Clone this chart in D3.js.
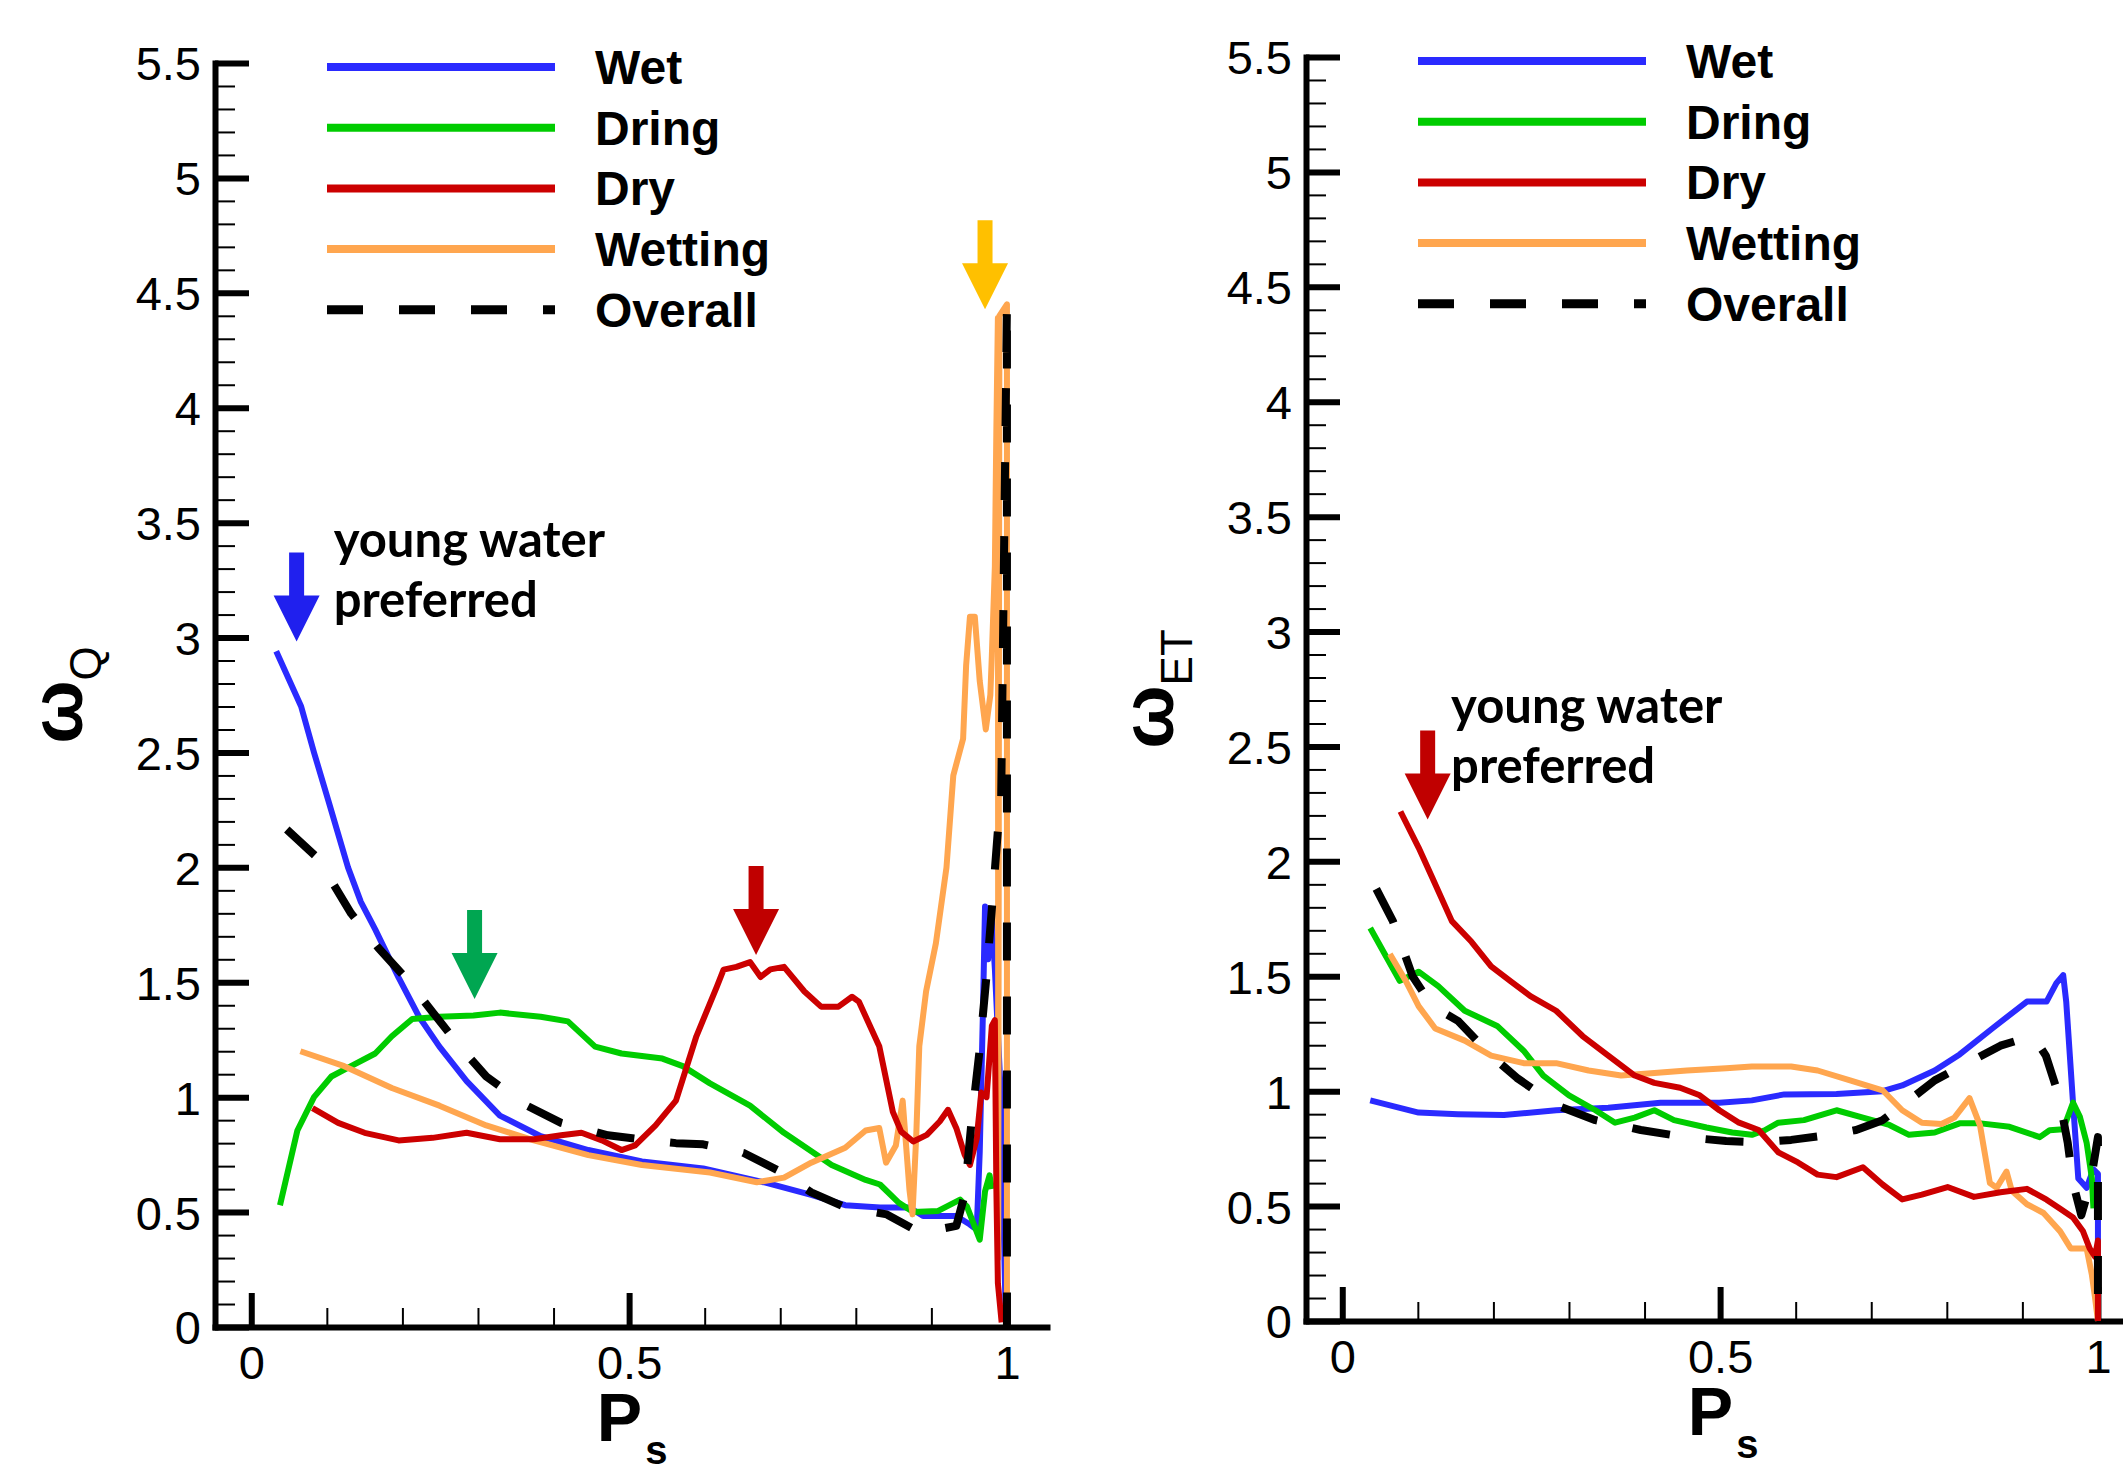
<!DOCTYPE html>
<html>
<head>
<meta charset="utf-8">
<script src="https://cdn.jsdelivr.net/npm/d3@7"></script>
<style>
	body { margin: 0; background: #fff; }
	svg { display: block; }
</style>
</head>
<body>
<svg id="chart" width="2123" height="1476"></svg>
<script>
/* Two Tecplot-style panels: preference weights ω_Q and ω_ET against P_s,
   one line per hydrologic state plus the overall (dashed) curve. */
'use strict';

// Tick values
var xTicks = [0, 0.5, 1];
var yTicks = [0, 0.5, 1, 1.5, 2, 2.5, 3, 3.5, 4, 4.5, 5, 5.5];
var legendNames = ['Wet', 'Dring', 'Dry', 'Wetting', 'Overall'];

// ω_Q panel, [Ps, ω]
var wetQ = [[0.033, 2.94], [0.066, 2.70], [0.083, 2.50], [0.102, 2.29], [0.128, 2.0], [0.145, 1.85], [0.164, 1.73],
	[0.195, 1.52], [0.222, 1.35], [0.249, 1.22], [0.285, 1.07], [0.329, 0.92], [0.383, 0.83], [0.446, 0.77],
	[0.517, 0.72], [0.598, 0.69], [0.678, 0.63], [0.741, 0.575], [0.786, 0.53], [0.832, 0.52], [0.871, 0.52],
	[0.889, 0.483], [0.933, 0.483], [0.951, 0.446], [0.96, 0.424], [0.964, 0.763], [0.968, 1.34], [0.971, 1.83],
	[0.975, 1.6], [0.979, 1.82], [0.984, 1.56], [0.992, 1.0], [0.998, 0.1]];
var dringQ = [[0.038, 0.53], [0.061, 0.855], [0.083, 1.0], [0.106, 1.09], [0.132, 1.135], [0.164, 1.19], [0.186, 1.265],
	[0.213, 1.34], [0.249, 1.35], [0.294, 1.355], [0.329, 1.368], [0.383, 1.35], [0.419, 1.33], [0.455, 1.22],
	[0.49, 1.19], [0.544, 1.168], [0.571, 1.135], [0.607, 1.06], [0.66, 0.963], [0.705, 0.845], [0.768, 0.705],
	[0.813, 0.64], [0.832, 0.62], [0.857, 0.54], [0.876, 0.5], [0.909, 0.505], [0.938, 0.554], [0.947, 0.525],
	[0.964, 0.38], [0.971, 0.59], [0.977, 0.66], [0.98, 0.6]];
var dryQ = [[0.081, 0.952], [0.115, 0.888], [0.15, 0.845], [0.195, 0.812], [0.24, 0.823], [0.285, 0.845], [0.329, 0.817],
	[0.374, 0.817], [0.41, 0.834], [0.437, 0.845], [0.464, 0.812], [0.49, 0.77], [0.508, 0.79], [0.535, 0.877],
	[0.562, 0.985], [0.589, 1.265], [0.616, 1.48], [0.625, 1.555], [0.642, 1.567], [0.66, 1.588], [0.674, 1.523],
	[0.687, 1.556], [0.705, 1.567], [0.732, 1.46], [0.754, 1.394], [0.777, 1.394], [0.795, 1.437], [0.804, 1.416],
	[0.831, 1.222], [0.849, 0.936], [0.86, 0.85], [0.876, 0.807], [0.894, 0.836], [0.911, 0.894], [0.922, 0.945],
	[0.933, 0.865], [0.944, 0.75], [0.951, 0.705], [0.96, 0.82], [0.966, 1.02], [0.973, 1.0], [0.98, 1.31],
	[0.984, 1.335], [0.986, 0.6], [0.988, 0.19], [0.993, 0.02]];
var wettingQ = [[0.065, 1.2], [0.123, 1.135], [0.186, 1.04], [0.249, 0.963], [0.311, 0.877], [0.374, 0.812], [0.446, 0.748],
	[0.517, 0.705], [0.607, 0.672], [0.669, 0.63], [0.705, 0.65], [0.741, 0.715], [0.786, 0.78], [0.813, 0.855],
	[0.831, 0.866], [0.84, 0.715], [0.853, 0.79], [0.862, 0.985], [0.871, 0.597], [0.875, 0.49], [0.88, 0.834],
	[0.884, 1.222], [0.893, 1.46], [0.906, 1.67], [0.92, 2.0], [0.929, 2.40], [0.942, 2.56], [0.946, 2.88],
	[0.951, 3.09], [0.9575, 3.09], [0.964, 2.81], [0.972, 2.60], [0.978, 2.75], [0.98, 2.92], [0.984, 3.31],
	[0.986, 3.91], [0.988, 4.39], [0.9885, 0.3], [0.99, 4.4], [1.0, 4.45], [1.0, 0]];
var overallQ = [[0.047, 2.165], [0.088, 2.04], [0.132, 1.80], [0.168, 1.65], [0.204, 1.52], [0.240, 1.37], [0.276, 1.22],
	[0.311, 1.09], [0.365, 0.963], [0.41, 0.888], [0.472, 0.834], [0.526, 0.812], [0.562, 0.80], [0.598, 0.795],
	[0.651, 0.758], [0.696, 0.683], [0.741, 0.586], [0.786, 0.521], [0.841, 0.49], [0.885, 0.41], [0.933, 0.44],
	[0.944, 0.575], [0.953, 0.89], [0.964, 1.21], [0.973, 1.53], [0.981, 1.86], [0.988, 2.16], [0.992, 2.2],
	[1.0, 4.45], [1.0, 0]];

// ω_ET panel
var wetET = [[0.037, 0.96], [0.101, 0.907], [0.153, 0.90], [0.214, 0.896], [0.283, 0.917], [0.352, 0.928], [0.421, 0.95],
	[0.499, 0.95], [0.542, 0.96], [0.585, 0.986], [0.654, 0.988], [0.715, 1.0], [0.741, 1.025], [0.784, 1.09],
	[0.817, 1.16], [0.861, 1.275], [0.906, 1.39], [0.932, 1.39], [0.945, 1.47], [0.954, 1.505], [0.958, 1.39],
	[0.967, 0.95], [0.974, 0.62], [0.985, 0.58], [0.994, 0.66], [1.0, 0.64], [1.0, 0]];
var dringET = [[0.037, 1.71], [0.058, 1.586], [0.076, 1.48], [0.101, 1.52], [0.127, 1.457], [0.162, 1.35], [0.205, 1.284],
	[0.240, 1.176], [0.266, 1.068], [0.3, 0.982], [0.335, 0.917], [0.361, 0.863], [0.387, 0.885], [0.413, 0.917],
	[0.439, 0.874], [0.482, 0.842], [0.516, 0.82], [0.542, 0.81], [0.559, 0.83], [0.577, 0.863], [0.611, 0.874],
	[0.654, 0.917], [0.689, 0.885], [0.724, 0.853], [0.75, 0.81], [0.784, 0.82], [0.817, 0.86], [0.845, 0.86],
	[0.883, 0.845], [0.923, 0.80], [0.936, 0.83], [0.954, 0.834], [0.967, 0.95], [0.976, 0.89], [0.985, 0.776],
	[0.992, 0.62], [0.994, 0.49]];
var dryET = [[0.077, 2.217], [0.101, 2.06], [0.119, 1.93], [0.145, 1.74], [0.171, 1.65], [0.197, 1.543], [0.223, 1.478],
	[0.249, 1.414], [0.283, 1.35], [0.318, 1.24], [0.352, 1.155], [0.387, 1.068], [0.413, 1.036], [0.447, 1.015],
	[0.473, 0.982], [0.499, 0.917], [0.525, 0.863], [0.551, 0.831], [0.577, 0.734], [0.603, 0.69], [0.629, 0.637],
	[0.654, 0.626], [0.689, 0.669], [0.715, 0.594], [0.741, 0.529], [0.767, 0.55], [0.801, 0.583], [0.836, 0.54],
	[0.871, 0.56], [0.906, 0.575], [0.932, 0.528], [0.95, 0.488], [0.967, 0.45], [0.98, 0.392], [0.989, 0.316],
	[0.996, 0.28], [1.0, 0.35], [1.0, 0]];
var wettingET = [[0.063, 1.597], [0.084, 1.48], [0.101, 1.37], [0.123, 1.273], [0.162, 1.22], [0.197, 1.155], [0.240, 1.122],
	[0.283, 1.122], [0.326, 1.09], [0.369, 1.068], [0.413, 1.079], [0.456, 1.09], [0.508, 1.10], [0.542, 1.107],
	[0.594, 1.107], [0.629, 1.09], [0.672, 1.047], [0.715, 1.004], [0.741, 0.917], [0.767, 0.863], [0.793, 0.857],
	[0.81, 0.885], [0.83, 0.97], [0.844, 0.85], [0.857, 0.60], [0.866, 0.58], [0.879, 0.65], [0.886, 0.567],
	[0.906, 0.508], [0.928, 0.47], [0.95, 0.39], [0.964, 0.316], [0.985, 0.316], [0.992, 0.2], [0.996, 0.105], [1.0, 0]];
var overallET = [[0.045, 1.88], [0.067, 1.74], [0.093, 1.50], [0.119, 1.37], [0.153, 1.306], [0.197, 1.155], [0.231, 1.058],
	[0.283, 0.939], [0.335, 0.874], [0.395, 0.831], [0.456, 0.799], [0.508, 0.783], [0.551, 0.777], [0.594, 0.788],
	[0.646, 0.81], [0.680, 0.831], [0.715, 0.874], [0.75, 0.96], [0.784, 1.047], [0.827, 1.122], [0.871, 1.198],
	[0.914, 1.241], [0.931, 1.155], [0.948, 0.982], [0.96, 0.776], [0.967, 0.60], [0.978, 0.46], [0.99, 0.6],
	[1.0, 0.8], [1.0, 0]];

// Annotation arrows: [Ps, ω] of the arrow tip
var arrowsQ = [[0.06, 2.983, '#2020ee'], [0.2955, 1.427, '#00a651'], [0.668, 1.619, '#c00000'], [0.971, 4.428, '#ffc000']];
var arrowsET = [[0.113, 2.182, '#c00000']];

var COLORS = { Wet: '#2a2aff', Dring: '#00cc00', Dry: '#cc0000', Wetting: '#ffa64f', Overall: '#000' };
var FONT = "'Liberation Sans', Arial, Helvetica, sans-serif";

var svg = d3.select('#chart');

function drawPanel(p) {
	var x = d3.scaleLinear().domain([-0.048, 1.053]).range([p.left, p.left + 832]);
	var y = d3.scaleLinear().domain([0, 5.5]).range([p.bottom, p.bottom - 1264]);
	var g = svg.append('g');

	var yMinor = d3.range(1, 55).map(function (i) { return i / 10; }).filter(function (v) { return Math.round(v * 10) % 5; });
	var xMinor = d3.range(1, 10).map(function (i) { return i / 10; }).filter(function (v) { return v !== 0.5; });

	// minor ticks
	g.append('g').attr('transform', 'translate(' + p.left + ',0)')
		.call(d3.axisLeft(y).tickValues(yMinor).tickSize(-20).tickFormat(''))
		.call(function (a) { a.select('.domain').remove(); a.selectAll('line').attr('stroke-width', 2); });
	g.append('g').attr('transform', 'translate(0,' + p.bottom + ')')
		.call(d3.axisBottom(x).tickValues(xMinor).tickSize(-19).tickFormat(''))
		.call(function (a) { a.select('.domain').remove(); a.selectAll('line').attr('stroke-width', 2); });

	// major axes
	var gy = g.append('g').attr('transform', 'translate(' + p.left + ',0)')
		.call(d3.axisLeft(y).tickValues(yTicks).tickSizeInner(-34).tickSizeOuter(0).tickPadding(14).tickFormat(String));
	var gx = g.append('g').attr('transform', 'translate(0,' + p.bottom + ')')
		.call(d3.axisBottom(x).tickValues(xTicks).tickSizeInner(-34).tickSizeOuter(0).tickPadding(19).tickFormat(String));
	[gy, gx].forEach(function (a) {
		a.select('.domain').attr('stroke-width', 6).attr('stroke-linecap', 'square');
		a.selectAll('.tick line').attr('stroke-width', 6);
		a.selectAll('.tick text').attr('font-size', 47).attr('font-family', FONT).attr('fill', '#000');
	});
	gy.selectAll('.tick text').attr('dy', '0.36em');

	// series
	var line = d3.line().x(function (d) { return x(d[0]); }).y(function (d) { return y(d[1]); });
	var order = ['Wet', 'Dring', 'Wetting', 'Dry', 'Overall'];
	order.forEach(function (name) {
		var dashed = name === 'Overall';
		g.append('path').datum(p.series[name]).attr('d', line)
			.attr('fill', 'none').attr('stroke', COLORS[name])
			.attr('stroke-width', dashed ? 8 : 6)
			.attr('stroke-dasharray', dashed ? '38,36' : null)
			.attr('stroke-linejoin', 'round');
	});

	// legend
	var top = y(5.5) + 4;
	var leg = g.append('g').selectAll('g').data(legendNames).join('g')
		.attr('transform', function (d, i) { return 'translate(0,' + (top + i * 60.7) + ')'; });
	leg.append('line').attr('x1', p.left + 112).attr('x2', p.left + 340)
		.attr('stroke', function (d) { return COLORS[d]; })
		.attr('stroke-width', function (d) { return d === 'Overall' ? 9 : 8; })
		.attr('stroke-dasharray', function (d) { return d === 'Overall' ? '36,36' : null; });
	leg.append('text').attr('x', p.left + 380).attr('dy', '0.35em')
		.attr('font-family', FONT).attr('font-weight', 'bold').attr('font-size', 48)
		.text(function (d) { return d; });

	// arrows (tip at the data point, 89px long)
	g.append('g').selectAll('path').data(p.arrows).join('path')
		.attr('fill', function (d) { return d[2]; })
		.attr('d', function (d) {
			var tx = x(d[0]), ty = y(d[1]);
			return 'M' + (tx - 7.5) + ',' + (ty - 89) + 'H' + (tx + 7.5) + 'V' + (ty - 46) + 'H' + (tx + 23) +
				'L' + tx + ',' + ty + 'L' + (tx - 23) + ',' + (ty - 46) + 'H' + (tx - 7.5) + 'Z';
		});

	// "young water preferred"
	var note = g.append('text').attr('font-family', "Lato, 'Open Sans', sans-serif")
		.attr('font-weight', 'bold').attr('font-size', 49);
	note.append('tspan').attr('x', x(p.note[0])).attr('y', y(p.note[1])).text('young water');
	note.append('tspan').attr('x', x(p.note[0])).attr('y', y(p.note[1]) + 60).text('preferred');

	// axis titles
	var yt = g.append('text').attr('font-family', FONT).attr('text-anchor', 'middle')
		.attr('transform', 'translate(' + (p.left - 133) + ',' + (p.bottom - 632) + ') rotate(-90)');
	yt.append('tspan').attr('font-weight', 'bold').attr('font-size', 75).text('ω');
	yt.append('tspan').attr('font-size', 44).attr('dy', 19).text(p.sub);

	var xt = g.append('text').attr('font-family', FONT).attr('font-weight', 'bold').attr('text-anchor', 'middle')
		.attr('x', x(0.5) + 3).attr('y', p.bottom + 114);
	xt.append('tspan').attr('font-size', 68).text('P');
	xt.append('tspan').attr('font-size', 40).attr('dx', 3).attr('dy', 23).text('s');
}

drawPanel({
	left: 215, bottom: 1327, sub: 'Q', note: [0.109, 3.352], arrows: arrowsQ,
	series: { Wet: wetQ, Dring: dringQ, Dry: dryQ, Wetting: wettingQ, Overall: overallQ }
});
drawPanel({
	left: 1306, bottom: 1321, sub: 'ET', note: [0.144, 2.604], arrows: arrowsET,
	series: { Wet: wetET, Dring: dringET, Dry: dryET, Wetting: wettingET, Overall: overallET }
});
</script>
</body>
</html>
